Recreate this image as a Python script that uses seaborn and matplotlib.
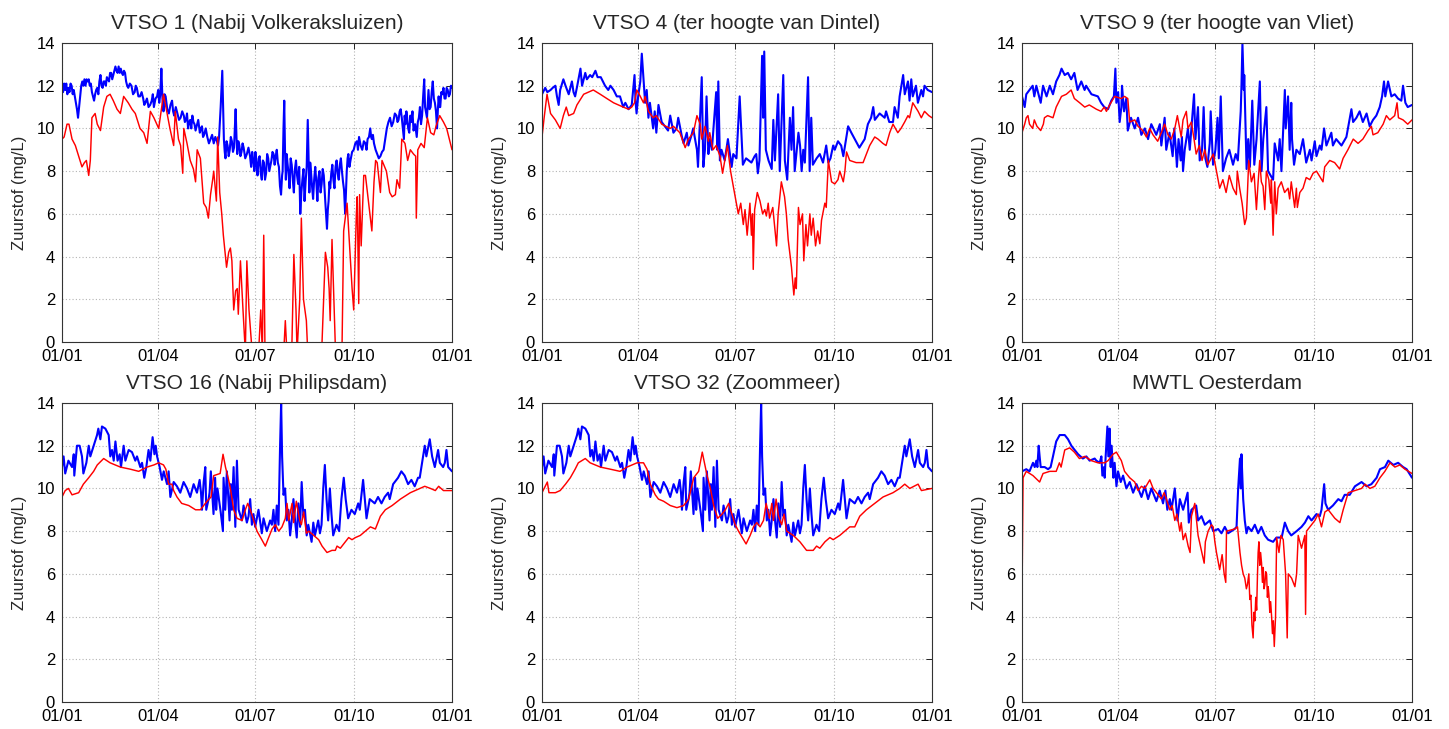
import numpy as np
import pandas as pd
import matplotlib
matplotlib.use("Agg")
import matplotlib.pyplot as plt
import seaborn as sns

# Dissolved oxygen (mg/L) per station, as (day of year, value) readings.
# "boven" = upper sensor (blue), "onder" = lower sensor (red).
vtso1_boven = [(0,12.0),(1,11.7),(2,12.1),(3,11.8),(4,12.1),(5,11.6),(6,11.9),(7,11.7),(8,12.1),(9,12.0),(10,11.6),(11,11.8),(12,11.5),(13,11.2),(14,10.9),(15,10.5),(16,11.0),(17,11.5),(18,12.0),(19,12.2),(20,12.0),(21,12.3),(22,12.0),(23,12.3),(24,12.2),(25,12.3),(26,12.0),(27,12.1),(28,11.7),(29,11.5),(30,11.3),(31,11.6),(32,11.8),(33,11.9),(34,11.6),(35,12.2),(36,12.5),(37,12.0),(38,11.9),(39,12.2),(40,12.2),(41,12.0),(42,12.4),(43,12.3),(44,12.2),(45,12.6),(46,12.6),(47,12.3),(48,12.5),(49,12.7),(50,12.9),(51,12.7),(52,12.6),(53,12.9),(54,12.6),(55,12.8),(56,12.6),(57,12.5),(58,12.7),(59,12.6),(60,12.2),(61,12.0),(62,11.9),(63.5,12.1),(65,12.0),(66.5,11.6),(68,11.7),(69,12.0),(70,11.9),(71.5,11.5),(73,11.5),(74.5,11.7),(76,11.4),(77,11.1),(78,11.2),(79.5,11.4),(81,11.0),(82.5,11.1),(84,11.3),(85,11.6),(86,11.0),(87.5,11.4),(89,11.5),(90,11.8),(91,11.2),(92,11.6),(93,12.8),(94,11.4),(95,10.8),(96,11.6),(97,11.5),(98.5,10.9),(100,10.7),(101.5,11.1),(103,11.3),(104,10.8),(105,10.6),(106.5,11.0),(108,10.7),(109.5,10.4),(111,10.5),(112.5,10.8),(114,10.6),(115,10.3),(116,10.4),(117,10.7),(118,10.0),(119,10.3),(120,10.4),(121,10.0),(122,10.6),(123,10.3),(124,10.2),(125,9.9),(126,10.1),(127.5,10.4),(129,9.8),(130,10.0),(131,10.1),(132,9.6),(133,9.7),(134.5,10.0),(136,9.6),(137.5,9.3),(139,9.5),(140.5,9.7),(142,9.3),(143.5,9.6),(145,9.4),(146,9.2),(147,9.6),(148.5,11.0),(150,12.7),(151.5,9.5),(152.3,8.9),(153,8.6),(154,9.4),(155,9.2),(156,8.7),(157,9.0),(158,9.6),(159,9.4),(160,8.9),(161,9.1),(162.5,10.9),(163.3,9.6),(164,8.8),(165,9.4),(166,9.2),(167,8.7),(168,8.9),(169,9.3),(170,9.1),(171.5,8.6),(173,8.8),(174.5,9.1),(176,8.7),(177,8.2),(178,8.9),(179,8.5),(180,8.0),(181,8.9),(182,8.3),(183,7.8),(184,8.6),(185,8.7),(186,7.9),(187,7.6),(188,8.5),(189,8.4),(190,7.6),(191,7.9),(192,8.8),(193,8.6),(194,8.0),(196,8.5),(197,8.9),(198,8.8),(199,8.3),(200,8.7),(201,9.0),(202,8.4),(203,8.2),(204,7.3),(205,6.9),(206,7.8),(206.5,8.0),(207.3,10.0),(208,11.3),(208.7,9.0),(209.5,7.6),(210.3,8.8),(211,8.4),(212,7.9),(213,7.2),(214,8.6),(215,8.3),(216,7.6),(217,7.0),(218,8.1),(219,8.5),(220,7.8),(221,7.4),(222,8.2),(223,6.0),(224,7.0),(225,7.6),(226,8.1),(227,6.6),(228,7.5),(229,8.2),(230,10.4),(230.8,8.5),(231.5,7.0),(232.3,8.4),(233,8.0),(234,7.3),(235,6.7),(236,7.6),(237,8.2),(238,7.5),(239,6.6),(240,7.7),(241,8.0),(242,7.0),(243,7.4),(244,8.1),(245,7.8),(246.5,6.5),(247.3,5.9),(248,5.3),(248.8,6.2),(249.5,6.6),(250.3,7.5),(251,7.2),(252,7.9),(253,8.3),(254,7.6),(255,7.2),(256,8.2),(257,8.5),(258,7.9),(259,7.6),(260,8.3),(261,8.6),(262,8.0),(263,7.5),(264,7.1),(265,6.0),(265.8,7.0),(266.5,8.0),(267.3,8.6),(268,8.8),(269,8.2),(270,8.5),(271.5,8.9),(273,9.0),(274.5,9.3),(276,9.4),(277,9.0),(278,9.6),(279.5,9.2),(281,9.0),(282.5,9.4),(284,9.3),(285,9.0),(286,9.5),(287.3,9.6),(288.5,10.0),(289.3,9.6),(290,9.5),(291,9.7),(292,9.3),(293.5,9.0),(295,8.8),(296.5,8.6),(298,8.7),(299.5,8.9),(301,9.0),(302.5,9.5),(304,10.0),(305.5,10.3),(307,10.5),(308.5,10.1),(310,10.3),(311.5,10.7),(313,10.6),(314,10.3),(315,10.4),(316,10.8),(317,10.9),(318,10.5),(319,10.0),(320,9.5),(320.7,10.6),(321.5,10.2),(322.3,10.8),(323,10.5),(324,10.0),(325,9.8),(326,10.6),(327,10.3),(328,10.8),(329,9.9),(330.5,10.2),(332,9.6),(333,10.3),(334,10.5),(335,11.0),(336,10.2),(337,10.6),(338,11.5),(339,12.3),(339.8,11.0),(340.5,10.8),(341.6,10.5),(342.3,11.2),(343,11.8),(344,10.9),(345,11.0),(346,11.7),(347,12.2),(348,11.4),(349,11.2),(350,10.8),(351,10.0),(351.8,10.9),(352.5,11.5),(353.3,11.0),(354,11.0),(355,11.7),(356,11.6),(357,11.9),(358,11.4),(359,11.4),(360,11.9),(361,11.8),(362,11.5),(363,11.6),(364,12.0),(365,11.9)]
vtso1_onder = [(0,9.5),(2,9.6),(4.7,10.2),(6.5,10.2),(9.4,9.5),(12.5,9.2),(15.6,8.7),(18.7,8.2),(21,8.4),(22.8,8.5),(25,7.8),(26.5,8.5),(28,10.5),(31,10.7),(33,10.2),(36,9.9),(39,11.0),(42,11.5),(45,11.6),(48,11.3),(51.5,10.9),(54.6,10.7),(57.7,11.5),(62,11.2),(65.5,10.9),(68.6,10.7),(73,10.0),(76.5,9.8),(79.6,9.3),(82.7,10.8),(86,10.5),(90.5,10.0),(93,10.9),(95,11.6),(98,10.8),(101,10.0),(104.5,9.2),(106,10.8),(109,9.5),(111,9.2),(113,7.9),(114,10.0),(117,9.3),(120,8.5),(123,8.1),(125,7.5),(126.5,9.0),(129.5,8.6),(132.6,6.5),(135,6.3),(137,5.8),(139,6.9),(141,7.6),(142,8.0),(144.5,6.6),(145.7,9.6),(147.6,7.0),(149.5,6.0),(151,5.0),(154,3.5),(156,4.2),(157.6,4.4),(159,3.8),(160.7,1.5),(162.5,2.4),(164,2.5),(165,1.3),(167,3.8),(169.4,1.5),(171.6,-0.5),(173,3.8),(175,1.5),(178,-0.5),(184,-0.5),(186,1.5),(187.5,-0.5),(188.8,5.0),(190,-0.5),(207.5,-0.5),(209,1.0),(210.5,-0.5),(215,-0.5),(217,4.1),(219,1.5),(220,-0.5),(222.5,2.0),(224,5.8),(226,2.0),(228.7,1.0),(230,-0.5),(243,-0.5),(246.5,4.2),(248.7,3.5),(250,2.5),(251,1.0),(252.7,4.8),(255,1.0),(256,-0.5),(262,-0.5),(263.6,5.2),(266.8,6.5),(270,3.8),(271.5,2.5),(273,1.5),(275.5,6.0),(276.3,6.8),(277.7,1.8),(278.5,6.9),(280,4.5),(282.4,7.8),(284,7.8),(287,6.5),(290,5.2),(292,7.5),(293.5,8.5),(295,8.4),(298,7.0),(299.5,8.5),(303.6,8.0),(306.7,7.0),(309,6.8),(312,6.9),(313.5,7.6),(316,7.2),(318,9.5),(321,9.3),(323.5,8.5),(326,9.0),(329,8.8),(331,8.7),(331.6,5.8),(333,9.0),(336,9.3),(339,9.1),(342,10.5),(345,9.8),(348,9.7),(350,10.1),(353.5,10.6),(357,10.3),(360,10.0),(362,9.6),(365,9.0)]

vtso4_boven = [(0,11.6),(3,11.9),(5,11.7),(8,11.8),(10,11.9),(12.5,12.0),(14,11.5),(15.6,11.1),(17,11.8),(20,12.3),(22,12.0),(25,11.6),(28,12.2),(29.5,11.7),(31,11.5),(33,12.0),(36,12.8),(37.5,12.0),(40.5,12.6),(42,12.3),(45,12.5),(47,12.4),(50,12.7),(52,12.4),(55,12.4),(57,12.2),(59,12.0),(62,11.8),(64,12.0),(67,11.8),(70,11.5),(73,11.5),(76,11.0),(78,11.2),(81,10.9),(84,11.1),(86.6,12.5),(87.5,11.3),(88.5,10.7),(90,11.5),(92,12.2),(93.4,13.5),(95,12.3),(96.5,11.2),(98,11.8),(99.6,10.5),(101,11.2),(104,10.0),(105.5,10.8),(107,9.8),(109,11.1),(112,10.3),(115,10.1),(118,9.9),(120,10.6),(123,9.8),(126,10.0),(127.5,10.5),(131,9.6),(132.5,9.3),(135.5,9.8),(137,9.2),(140,9.7),(141.5,10.0),(145,9.0),(146,8.2),(147.5,10.0),(149.5,12.4),(151,8.2),(152.5,9.0),(154,11.5),(155.7,8.8),(157,9.5),(159,9.0),(160.5,10.0),(163,11.7),(164,9.0),(165,12.2),(166.5,8.5),(168,9.0),(171,8.5),(174,9.5),(177.5,8.2),(179,8.8),(182,8.6),(185,11.5),(188,8.3),(191,8.6),(196,8.4),(199,8.7),(200.5,8.8),(202,7.9),(203.5,8.5),(205,11.5),(206,13.4),(207,10.5),(208,13.6),(209.5,9.0),(212,8.5),(215,8.1),(216.5,10.4),(218,8.5),(221,11.6),(222.5,8.0),(225.8,12.5),(227.3,8.5),(229.5,7.6),(232,10.5),(233.5,9.0),(235,11.0),(236.5,8.0),(240,9.8),(241.5,9.2),(243,8.0),(244.5,9.0),(246,8.4),(249,12.4),(250.5,8.0),(252,10.5),(253.5,8.3),(257,8.6),(260,8.8),(263,8.4),(266,9.2),(268,8.4),(270,8.6),(272.5,9.2),(274,9.0),(277,9.4),(280,9.2),(282,8.7),(286.5,10.1),(289.5,9.8),(292.7,9.5),(297,9.1),(302,9.5),(305,10.2),(308,10.5),(310,11.0),(311.5,10.4),(316,10.7),(320.7,10.5),(322,10.8),(325,10.3),(328.5,10.3),(330,11.0),(333,10.5),(334.7,11.5),(338,12.5),(339.5,11.6),(342.5,12.2),(344,11.3),(345.6,12.3),(347,11.5),(350,12.0),(351.8,11.2),(355,11.8),(356.6,11.5),(358,12.0),(361,11.8),(365,11.7)]
vtso4_onder = [(0,9.6),(2,10.5),(4.7,11.6),(8,10.7),(12.5,10.4),(17,10.0),(20,10.6),(22.7,11.0),(25,10.6),(29.6,10.7),(32.7,11.1),(39,11.6),(48,11.8),(54.5,11.6),(60.7,11.4),(67,11.2),(76,11.0),(81,10.9),(84,11.0),(86.6,11.2),(88.7,11.8),(92,11.5),(95,11.2),(96.5,11.5),(99.6,10.8),(104,10.5),(107,10.6),(112,10.2),(120,10.0),(123,10.1),(129,9.8),(134,9.1),(137,9.5),(141.7,9.8),(145,10.6),(148,10.2),(149.5,9.5),(152.6,10.1),(155.7,9.4),(157,9.8),(160,9.0),(163,9.2),(166.6,8.7),(169,7.9),(173.5,9.2),(176.5,8.0),(179,7.3),(183.7,6.0),(186,6.5),(188.4,5.5),(190,6.2),(192,5.0),(194.6,6.5),(196,5.0),(197,6.0),(197.7,3.4),(199,6.2),(201.5,7.0),(204,6.6),(206.5,6.0),(208.5,6.2),(210,5.9),(211.7,6.5),(213,5.8),(216,6.3),(219.5,4.5),(221,6.0),(224,7.5),(227,6.8),(228.7,6.0),(230.4,4.8),(233.5,3.5),(235.7,2.2),(237,3.0),(238,2.5),(240,6.3),(241.5,5.5),(243.8,6.0),(245,3.8),(247,5.5),(248.5,4.5),(250.7,6.0),(252,5.0),(253.8,5.8),(256,4.5),(258,5.2),(260,4.6),(261.6,5.7),(264.7,6.5),(266,6.3),(268,8.5),(271,7.5),(274,7.4),(277,7.6),(278.7,8.0),(282,7.5),(283.5,8.0),(285,8.9),(288,8.5),(294,8.4),(300.5,8.4),(303.6,8.8),(306.7,9.2),(311.4,9.6),(314.5,9.5),(319,9.3),(322,9.2),(325.4,9.8),(328.5,10.2),(333,9.8),(336,10.0),(339.4,10.3),(342.5,10.6),(344,10.5),(347,11.2),(352,10.8),(355,10.5),(358,10.8),(362,10.6),(365,10.5)]

vtso9_boven = [(0,11.5),(2.5,11.0),(4,11.6),(7,11.8),(10,12.0),(11.5,11.5),(13.4,12.0),(17.5,11.2),(19.7,12.0),(23,11.5),(26,12.0),(29,11.6),(32,12.2),(35,12.5),(37,12.8),(40,12.5),(43,12.6),(46,12.3),(49,12.6),(52,11.8),(55.5,12.2),(58.6,11.8),(60,12.0),(65,11.6),(71,11.5),(74,11.2),(77,11.0),(80.5,10.9),(83.6,11.3),(86,11.5),(87.4,12.8),(88.3,11.2),(90,11.7),(91.4,10.3),(93,11.0),(93.6,12.0),(95.5,10.8),(97.6,11.4),(99,9.9),(102,10.5),(105.5,10.0),(108.6,10.5),(111.7,9.7),(115,10.0),(118,9.5),(121,10.2),(125.7,9.7),(129,10.2),(130.4,9.2),(133.5,10.5),(135,9.0),(138,9.8),(141,8.7),(142.5,10.0),(144,9.0),(145,8.2),(146.5,9.5),(148.5,8.5),(149.7,9.6),(150.7,8.0),(152.3,9.0),(153.8,9.5),(155.3,10.0),(157,9.0),(161,11.6),(162.3,9.5),(164.7,11.0),(166.3,8.5),(168.5,9.0),(170,11.0),(171.6,8.6),(173.5,8.2),(175.7,9.3),(176.6,10.8),(178.8,8.3),(181,9.0),(183,10.5),(184.2,8.6),(186,11.5),(188,8.0),(191,8.6),(194,9.0),(197.5,8.3),(200,8.8),(202,8.5),(204.7,10.8),(205.4,12.0),(206.3,14.0),(207.6,11.8),(208,12.5),(210.2,8.1),(211.7,9.5),(213.3,8.2),(215.5,11.3),(217.4,8.3),(219.5,9.5),(222.6,12.2),(224.2,8.0),(225.8,9.5),(228.7,11.0),(230.3,8.0),(235,7.6),(236.5,9.3),(239.7,8.5),(241.2,9.5),(242.8,8.0),(246,11.8),(246.8,10.0),(249,11.5),(250.5,9.0),(252,11.2),(252.7,9.5),(254.6,8.3),(256.8,9.0),(260,8.8),(263,9.5),(266,8.4),(269.4,9.0),(271,8.5),(274,9.4),(275.6,8.7),(278.7,9.2),(280.3,9.0),(282.7,10.0),(284.9,9.2),(289.5,9.8),(291,9.2),(294,9.5),(299,9.2),(303.6,9.6),(308.3,10.9),(309.9,10.3),(313,10.5),(316,10.8),(319,10.3),(322.5,10.7),(325.4,10.1),(328.5,10.4),(331.6,10.6),(334.8,11.0),(337,11.5),(338.8,12.2),(340,11.5),(342.6,12.2),(345.7,11.5),(348.8,11.6),(351.9,11.4),(355,11.3),(356.6,12.0),(358.8,11.2),(361,11.0),(365,11.1)]
vtso9_onder = [(0,9.8),(2.5,10.2),(4,10.5),(5.6,10.6),(7,10.2),(10,10.0),(11.5,10.4),(14,10.1),(17.5,9.9),(20,10.2),(21,10.5),(24,10.6),(29,10.5),(32,11.0),(37,11.5),(41.5,11.6),(46,11.8),(49,11.4),(54,11.2),(58.7,11.0),(63,11.1),(69.6,10.9),(74,10.8),(77,11.0),(79,10.8),(82,11.1),(86.7,11.5),(93,11.4),(96,11.5),(99,11.4),(100.8,10.3),(105.5,10.4),(108.6,10.1),(113,9.9),(116.4,9.6),(119.5,10.0),(122.6,9.7),(127,9.4),(130.4,9.8),(133.5,10.2),(136.6,9.7),(139.7,9.5),(143,10.0),(145.4,10.6),(147.6,10.0),(149,9.6),(150.7,10.4),(153.8,10.8),(155.3,10.0),(158.5,10.3),(161,9.5),(163,8.8),(166,9.2),(168.5,8.5),(171,9.0),(174,8.3),(179,8.8),(182,8.0),(185,7.2),(188,7.6),(191,7.0),(194,7.8),(197.5,7.2),(200.6,6.9),(201.5,8.0),(203.7,7.2),(206,6.5),(208.4,5.5),(210,5.8),(211,7.0),(212.2,8.5),(214.7,7.5),(217.2,7.9),(219.4,6.2),(221,7.5),(222.5,8.5),(224,7.5),(225.6,7.3),(227.2,6.2),(228.7,8.0),(231,7.6),(232.8,6.5),(233.4,7.6),(235,5.0),(236.5,7.5),(238,6.0),(239.7,7.2),(242.7,7.5),(245.8,7.0),(249,7.2),(250.5,6.7),(252,7.5),(253.6,6.9),(255.2,6.3),(256.8,7.2),(257.7,6.3),(260,7.0),(263,7.2),(266,7.7),(269.4,7.6),(272.4,7.9),(275.6,8.0),(281.7,7.5),(283.3,8.2),(288,8.5),(292.6,8.4),(297.3,8.1),(300.5,8.6),(305,9.0),(310,9.5),(314.5,9.3),(319,9.5),(323.9,9.9),(327,10.1),(328.5,9.7),(333,9.8),(338,10.2),(341,10.6),(344.2,10.4),(348.8,10.6),(351,11.2),(352.3,10.5),(356.6,10.4),(361,10.2),(365,10.4)]

# The upper sensor record is shared by VTSO 16 and VTSO 32.
vtso16_boven = [(0,11.0),(1.5,11.5),(3,10.7),(6,11.3),(9.4,11.0),(11,11.6),(11.5,10.6),(14,12.0),(16.5,12.0),(18.7,11.5),(20,10.7),(22.8,11.2),(25,12.0),(26.5,11.5),(29.6,12.0),(32.8,12.5),(34,12.8),(35.9,12.3),(37.4,12.9),(40.6,12.8),(43.7,12.5),(45.2,11.5),(46.8,11.8),(48.4,11.3),(50,12.2),(52,11.3),(54,11.6),(55.2,11.0),(57.7,12.0),(59.3,11.3),(62.4,11.8),(65.5,11.7),(68.6,11.3),(70.2,11.5),(73.3,11.0),(74.9,11.2),(77,10.5),(78.9,11.0),(81,11.8),(82.7,11.3),(84.8,12.4),(86.5,11.6),(87.7,12.0),(89,11.5),(91.4,11.0),(93.6,10.4),(95.2,10.8),(98.3,10.2),(99.8,10.8),(101.4,9.6),(104.5,10.3),(107.6,10.1),(110.7,9.8),(113.8,10.3),(117,10.0),(120,9.6),(123.2,10.2),(126.3,9.8),(128.8,10.4),(130.1,9.8),(131,9.0),(132.6,10.3),(134.1,11.0),(135,9.0),(137.2,9.5),(138.1,9.8),(139.3,10.8),(141.8,8.8),(143.3,10.5),(144.3,9.0),(145.5,10.0),(148.5,8.9),(150.6,8.0),(151.2,10.5),(152.8,9.0),(154.3,10.8),(156.8,8.5),(158,10.2),(159,9.0),(160.6,11.0),(162.2,8.2),(163.7,11.3),(165.3,9.0),(168.4,8.5),(169.9,9.2),(173,8.4),(174.6,8.7),(176.1,9.5),(177.7,8.3),(179.2,8.8),(180.8,8.2),(183.9,9.0),(187,7.9),(188.6,8.6),(191.7,8.0),(194.8,8.5),(196.4,8.3),(197.9,9.0),(199.5,8.0),(201,9.2),(202.6,8.3),(204.1,12.0),(205.1,14.0),(206,11.5),(207.3,9.7),(208.8,10.0),(210.4,8.5),(211.9,9.0),(213.5,7.8),(215,8.5),(216.6,9.5),(218.1,8.5),(219.7,7.7),(221.2,9.3),(222.8,8.2),(224.3,10.3),(225.9,8.7),(227.4,9.0),(229,7.8),(230.5,8.3),(233.6,7.5),(235.2,8.4),(236.7,7.8),(239.8,8.5),(241.4,7.9),(242.9,8.3),(244.5,10.0),(246,11.1),(247.6,9.5),(249.1,8.5),(250.7,10.0),(252.2,8.8),(253.8,7.8),(256.9,8.3),(259.4,8.0),(261.5,9.5),(263.7,10.5),(265.5,9.5),(267.8,8.6),(270.9,9.0),(274,8.8),(277.2,9.3),(278.7,9.0),(281.8,10.4),(283.4,9.5),(285,8.6),(288,9.5),(292.7,9.3),(295.8,9.6),(299,9.3),(302,9.6),(305.2,9.8),(306.7,9.5),(309.9,10.2),(314.5,10.5),(317.6,10.8),(320.7,10.6),(323.9,10.2),(327,10.4),(330.1,10.1),(333.2,10.5),(334.8,10.5),(337.3,11.3),(339.5,12.0),(341,11.5),(344.2,12.3),(346.4,11.5),(348.9,11.0),(352,11.8),(353.6,11.2),(356.7,11.0),(358.3,11.2),(359.8,11.8),(361.4,11.0),(365,10.8)]
vtso16_onder = [(0,9.6),(3,9.9),(6,10.0),(9.4,9.7),(15.6,9.8),(20,10.2),(25,10.5),(29.6,10.8),(33,11.1),(39,11.4),(45,11.2),(54.6,11.0),(64,10.9),(71.8,10.8),(79.6,11.0),(86,11.1),(90.5,11.2),(95,11.1),(97.2,10.9),(99.8,10.2),(102.9,10.2),(104.5,9.9),(107.6,9.6),(112,9.3),(118.6,9.2),(125,9.0),(129.5,9.0),(135.7,9.4),(139.5,9.6),(142,10.6),(148,10.7),(150.7,11.6),(153,11.0),(155.5,10.5),(157.6,10.0),(160.7,9.0),(163.8,8.6),(168.5,8.5),(171.6,9.0),(173.8,9.3),(176.3,9.0),(179.4,8.5),(182.5,8.0),(187,7.6),(190.3,7.3),(193.4,7.7),(196.6,8.1),(199.7,8.3),(202.8,8.0),(205.9,8.2),(209,8.6),(210.6,9.3),(212.2,8.5),(215.3,9.3),(216.8,8.4),(219.3,9.4),(222.5,8.5),(224,8.3),(226.2,8.9),(228.7,7.9),(230.9,8.0),(235.6,7.8),(240.2,7.6),(243.4,7.3),(248,7.0),(252.7,7.1),(255.8,7.1),(257.4,7.3),(260.5,7.2),(263.6,7.4),(268.3,7.7),(271.4,7.6),(274.6,7.7),(279.2,7.8),(283.9,8.0),(288.6,8.2),(293.3,8.1),(298,8.7),(302.6,9.0),(309,9.2),(316.7,9.5),(326,9.8),(335,10.0),(339.5,10.1),(344.8,10.0),(349.4,9.9),(352.5,10.1),(357,9.9),(365,9.9)]

vtso32_boven = vtso16_boven
vtso32_onder = [(0,9.8),(2,10.0),(5,10.3),(6.5,9.8),(12.5,9.8),(17,9.9),(22,10.2),(26.5,10.5),(31,10.9),(34,11.2),(40.5,11.4),(45,11.2),(54.6,11.0),(64,10.9),(73,10.8),(79.6,11.0),(89,11.2),(95,11.2),(98.3,10.9),(101.4,10.2),(106,9.7),(109,9.5),(113.8,9.4),(120,9.2),(126.3,9.1),(132.6,9.2),(137.2,9.5),(142,10.5),(146.6,10.8),(150,11.7),(151.2,11.4),(154.5,10.6),(157.6,10.0),(160.7,9.2),(164.4,8.6),(168.5,8.8),(171.6,9.0),(174.7,9.3),(177.7,8.8),(180.8,8.3),(183.9,8.0),(191,7.4),(194.8,7.8),(198,8.2),(201,8.4),(204.1,8.2),(207.3,8.5),(209.8,9.3),(212.9,8.6),(215.1,9.3),(216.6,8.5),(219.1,9.5),(221.3,8.7),(224.3,8.3),(226.5,8.8),(229,8.0),(235.2,7.8),(241.4,7.5),(247.6,7.1),(253.8,7.1),(257,7.3),(260,7.2),(264.8,7.5),(269.4,7.7),(272.5,7.6),(278.7,7.8),(283.4,8.0),(288,8.2),(292.7,8.2),(297.4,8.7),(303.6,9.0),(311.4,9.3),(319.2,9.6),(328.5,9.8),(334.8,10.0),(339.5,10.2),(344.2,10.0),(352,10.2),(355.1,9.9),(365,10.0)]

oesterdam_boven = [(0,10.8),(4,10.9),(7,10.8),(10.3,11.2),(11.9,11.0),(13.4,11.3),(14.4,11.0),(15.6,12.0),(16.5,11.5),(17.5,11.0),(21.2,11.0),(24.4,10.9),(26.8,11.0),(29,11.5),(32,12.2),(35.3,12.5),(40,12.5),(43.1,12.3),(46.2,12.0),(49.3,11.8),(52.5,11.6),(57,11.4),(60.2,11.5),(63.3,11.3),(68,11.4),(69.6,11.3),(72.7,11.2),(74.3,11.5),(75.2,10.6),(76.8,11.0),(77.4,10.5),(78.3,11.5),(79.9,12.9),(80.8,11.5),(82,12.8),(83,11.0),(83.9,12.0),(85.5,10.5),(86.7,11.2),(88.4,10.1),(89.9,10.8),(92.4,10.3),(94.6,10.6),(97.7,10.0),(100.8,10.3),(104,9.8),(107.1,10.2),(111.8,9.6),(114.9,10.1),(118,9.5),(121.1,10.0),(125.8,9.4),(128.9,9.9),(132,9.3),(134.2,9.9),(136,9.0),(138.3,9.5),(139.9,9.0),(143,10.0),(145.5,8.5),(147.7,9.5),(150.8,9.0),(155,9.8),(156.1,8.4),(158.6,9.0),(163,9.2),(164.8,8.5),(168,8.7),(171.1,8.3),(175.8,8.5),(178.9,8.0),(183.6,8.1),(186.7,7.9),(189.8,8.2),(192.9,7.9),(199,8.1),(200.8,8.2),(202.3,10.0),(204,11.4),(204.8,10.0),(205.4,11.6),(207,9.5),(208.5,8.5),(210.1,7.9),(211.7,8.2),(214.8,8.0),(217.9,8.3),(221,7.9),(224,8.2),(227.2,7.8),(230.3,7.6),(235,7.5),(238.1,7.7),(243,7.7),(246,8.4),(249.1,8.0),(252,7.8),(257,8.0),(261.6,8.2),(264.8,8.4),(268,8.7),(271,8.5),(275.6,8.8),(278.7,8.7),(280.3,9.0),(282.8,10.2),(284,9.3),(286.5,9.0),(291,9.2),(296,9.5),(299,9.4),(302,9.7),(306.7,9.7),(311.6,10.1),(317.8,10.3),(322.5,10.1),(327,10.2),(331.9,10.5),(335,10.9),(339.7,11.0),(342.8,11.3),(347.5,11.1),(352,11.2),(356.7,11.0),(360,10.9),(365,10.5)]
oesterdam_onder = [(0,4.8),(1,10.5),(4,10.8),(10.3,10.6),(16.5,10.3),(19.7,10.7),(26,10.8),(32,10.8),(35,11.2),(36.6,11.0),(40,11.8),(44.6,11.9),(49,11.7),(53.7,11.4),(58.7,11.5),(65,11.3),(71,11.2),(77.4,11.2),(80.5,11.3),(85.2,11.6),(88.3,11.7),(93,11.3),(96,10.8),(100.8,10.5),(105.5,10.3),(108.6,9.9),(111.8,10.1),(114.9,10.0),(119.6,10.4),(122.7,10.0),(127.4,9.7),(130.5,9.5),(133,9.8),(135.2,9.5),(138.3,9.0),(140.5,9.2),(143,8.5),(145,8.8),(147.7,8.0),(149,8.4),(150.8,7.6),(153,7.9),(155.5,7.3),(157.3,7.0),(158.6,8.7),(161.7,9.3),(164.8,7.8),(170.5,6.5),(171.6,7.5),(174.2,8.0),(177.3,8.3),(178.9,8.2),(180.5,7.5),(182,7.0),(185,6.2),(187.3,6.9),(189.2,6.0),(190.7,5.6),(191.4,8.0),(199,8.1),(201.7,8.2),(204,7.0),(205.5,6.4),(207,6.0),(208.5,5.8),(210,5.3),(211,5.5),(212.3,6.0),(213.2,4.8),(214.2,5.0),(215.2,3.6),(216.3,3.0),(217.1,4.2),(217.9,3.8),(218.8,4.9),(219.6,4.3),(220.4,6.0),(221,7.0),(221.7,7.5),(222.5,6.4),(223.3,7.0),(224.2,6.5),(225,5.6),(225.8,6.3),(226.5,5.3),(227.3,5.5),(228.1,6.1),(228.9,6.0),(229.7,4.9),(230.4,5.4),(231.1,5.0),(231.9,4.2),(232.7,4.7),(233.6,4.0),(234.4,3.2),(235.2,3.8),(236.1,2.6),(236.8,3.4),(237.3,4.0),(238.3,7.7),(240.5,7.0),(242.3,7.8),(244.5,7.6),(246.7,6.0),(248.2,3.0),(249.2,6.0),(252.3,5.8),(255.4,5.4),(257,6.0),(258.5,7.8),(261.6,7.2),(263.2,7.5),(264.7,7.8),(265.4,4.1),(266.3,8.0),(271,8.3),(274.1,8.5),(277.2,8.8),(280.3,8.2),(283.5,8.9),(286.6,9.0),(289.7,8.8),(292.8,8.6),(297.5,8.4),(300.6,9.0),(305.3,9.8),(311.5,9.9),(317.8,10.0),(321,10.2),(325.6,10.0),(330.2,10.1),(335,10.5),(339.6,10.8),(344.4,11.2),(349,11.0),(353.7,11.1),(358.4,10.9),(365,10.7)]

titels = ["VTSO 1 (Nabij Volkeraksluizen)", "VTSO 4 (ter hoogte van Dintel)",
          "VTSO 9 (ter hoogte van Vliet)", "VTSO 16 (Nabij Philipsdam)",
          "VTSO 32 (Zoommeer)", "MWTL Oesterdam"]
reeksen = [(vtso1_boven, vtso1_onder), (vtso4_boven, vtso4_onder),
           (vtso9_boven, vtso9_onder), (vtso16_boven, vtso16_onder),
           (vtso32_boven, vtso32_onder), (oesterdam_boven, oesterdam_onder)]

xtick_dagen = [0, 90, 181, 273, 365]
xtick_labels = ["01/01", "01/04", "01/07", "01/10", "01/01"]
yticks = [0, 2, 4, 6, 8, 10, 12, 14]

# Long-form table for seaborn
rows = []
for titel, (boven, onder) in zip(titels, reeksen):
    for naam, punten in (("boven", boven), ("onder", onder)):
        for dag, waarde in punten:
            rows.append((titel, naam, dag, waarde))
df = pd.DataFrame(rows, columns=["meetpunt", "sensor", "dag", "zuurstof"])

sns.set_style("white")
plt.rcParams["font.family"] = ["Liberation Sans", "DejaVu Sans"]

fig = plt.figure(figsize=(14.49, 7.29), dpi=100)
W, H = 1449, 729
lefts = [62, 542, 1022]
tops = [43, 403]
aw, ah = 390, 299

kleuren = {"boven": "#0000ff", "onder": "#ff0000"}
dikte = {"boven": 1.5, "onder": 1.05}

for i, titel in enumerate(titels):
    r, c = divmod(i, 3)
    ax = fig.add_axes([lefts[c] / W, 1 - (tops[r] + ah) / H, aw / W, ah / H])
    sub = df[df["meetpunt"] == titel]
    for naam in ("boven", "onder"):
        sns.lineplot(data=sub[sub["sensor"] == naam], x="dag", y="zuurstof",
                     color=kleuren[naam], linewidth=dikte[naam],
                     estimator=None, sort=False, ax=ax, legend=False)
    ax.set_xlim(0, 365)
    ax.set_ylim(0, 14)
    ax.set_xticks(xtick_dagen)
    ax.set_xticklabels(xtick_labels)
    ax.set_yticks(yticks)
    ax.grid(True, color="#b4b4b4", linestyle=(0, (1, 2)), linewidth=0.8)
    ax.set_axisbelow(True)
    for s in ax.spines.values():
        s.set_color("#333333")
        s.set_linewidth(0.8)
        s.set_visible(True)
    ax.tick_params(direction="in", top=True, right=True, length=4,
                   width=0.7, labelsize=12, pad=5, colors="#222222",
                   labelcolor="black")
    ax.set_xlabel("")
    ax.set_ylabel("Zuurstof (mg/L)", fontsize=12, labelpad=7)
    ax.set_title(titel, fontsize=15, pad=10)

fig.savefig("out.png", dpi=100)
